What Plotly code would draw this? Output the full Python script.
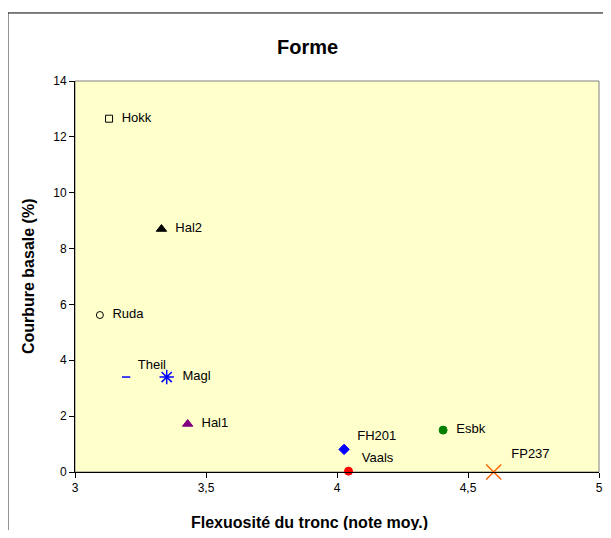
import plotly.graph_objects as go

# provenances: flexuosite (x) vs courbure basale (y)
names = ['Hokk', 'Hal2', 'Ruda', 'Theil', 'Magl', 'Hal1', 'FH201', 'Vaals', 'Esbk', 'FP237']
flexuosite = [3.13, 3.33, 3.095, 3.195, 3.35, 3.43, 4.027, 4.044, 4.405, 4.598]
courbure = [12.65, 8.7, 5.62, 3.4, 3.4, 1.72, 0.81, 0.03, 1.5, 0.0]
symbols = ['square-open', 'triangle-up', 'circle-open', 'line-ew', 'asterisk',
           'triangle-up', 'diamond', 'circle', 'circle', 'x-thin']
colors = ['black', 'black', 'black', '#0000FF', '#0000FF',
          '#800080', '#0000FF', '#FF0000', '#008000', '#FF6600']
sizes = [7, 9, 7, 6, 12, 9, 8, 8, 8, 15]
text_pos = ['middle right', 'middle right', 'middle right', 'top right', 'middle right',
            'middle right', 'top right', 'top right', 'middle right', 'top right']

FONT = 'Arial, Liberation Sans, sans-serif'

fig = go.Figure()
for i, n in enumerate(names):
    fig.add_trace(go.Scatter(
        x=[flexuosite[i]], y=[courbure[i]], mode='markers+text',
        text=['  ' + n], textposition=text_pos[i],
        textfont=dict(family=FONT, size=13, color='black'),
        marker=dict(symbol=symbols[i], color=colors[i], size=sizes[i],
                    line=dict(color=colors[i], width=1.5 if symbols[i] in ('asterisk', 'x-thin', 'line-ew') else 1)),
        cliponaxis=False, showlegend=False, name=n,
    ))

# page body has an 8px margin; keep plot edge a bit in so the "5" label shows
fig.update_layout(
    width=603, height=522,
    margin=dict(l=67, r=12, t=73, b=58, autoexpand=False),
    paper_bgcolor='white', plot_bgcolor='#FFFFCC',
    separators=', ',
    font=dict(family=FONT, color='black'),
    xaxis=dict(range=[3, 5], dtick=0.5, showgrid=False, zeroline=False, automargin=False,
               showline=True, linecolor='black', linewidth=1,
               ticks='outside', ticklen=5, tickcolor='black', ticklabeloverflow='allow',
               tickfont=dict(size=12, family=FONT)),
    yaxis=dict(range=[0, 14], dtick=2, showgrid=False, zeroline=False, automargin=False,
               showline=True, linecolor='black', linewidth=1,
               ticks='outside', ticklen=5, tickcolor='black',
               tickfont=dict(size=12, family=FONT)),
    shapes=[
        dict(type='rect', xref='paper', yref='paper', x0=0, x1=1, y0=0, y1=1,
             line=dict(color='#808080', width=1), layer='below'),
        dict(type='rect', xref='paper', yref='paper', x0=-0.128, x1=1.05, y0=-0.2, y1=1.174,
             line=dict(color='black', width=1), fillcolor='rgba(0,0,0,0)'),
    ],
    annotations=[
        dict(text='<b>Forme</b>', xref='paper', yref='paper', x=0.443, y=1.086,
             xanchor='center', yanchor='middle',
             showarrow=False, font=dict(size=20, family=FONT)),
        dict(text='<b>Courbure basale (%)</b>', xref='paper', yref='paper', x=-0.0897, y=0.501,
             xanchor='center', yanchor='middle',
             textangle=-90, showarrow=False, font=dict(size=16, family=FONT)),
        dict(text='<b>Flexuosité du tronc (note moy.)</b>', xref='paper', yref='paper',
             x=0.448, y=-0.128, xanchor='center', yanchor='middle',
             showarrow=False, font=dict(size=16, family=FONT)),
    ],
)

fig.write_html('out.html')
